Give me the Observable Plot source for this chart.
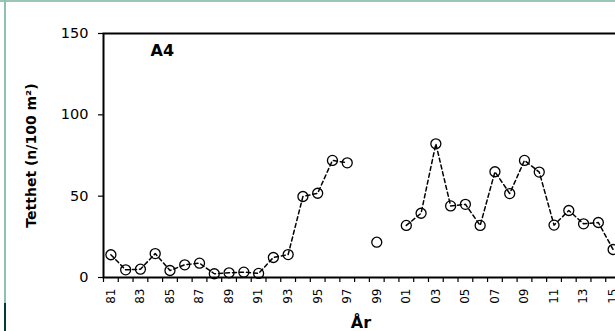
<!DOCTYPE html>
<html>
<head>
<meta charset="utf-8">
<script src="https://cdn.jsdelivr.net/npm/d3@7"></script>
<script src="https://cdn.jsdelivr.net/npm/@observablehq/plot@0.6"></script>
<style>
  html, body { margin: 0; padding: 0; background: #fff; }
  #wrap { position: relative; width: 615px; height: 331px; overflow: hidden; background: #fff; }
  #wrap svg { position: absolute; left: 0; top: 0; max-width: none !important; }
  .deco { position: absolute; }
</style>
</head>
<body>
<div id="wrap">
  <div class="deco" style="left:0;top:0;width:615px;height:2px;background:#99c6b6;"></div>
  <div class="deco" style="left:4px;top:0;width:2px;height:303px;background:#8fc1b0;"></div>
  <div class="deco" style="left:4px;top:303px;width:2px;height:28px;background:#003a3a;"></div>
</div>
<script>
// Year labels (1981–2015)
const years = ["81","82","83","84","85","86","87","88","89","90",
               "91","92","93","94","95","96","97","98","99","00",
               "01","02","03","04","05","06","07","08","09","10",
               "11","12","13","14","15"];
// Tetthet (n/100 m²), null = no sampling
const density = [14, 4.7, 5.1, 14.7, 4.3, 7.8, 8.8, 2.3, 2.9, 3.3,
                 2.5, 12.3, 14.1, 49.8, 51.8, 72, 70.5, null, 21.7, null,
                 32, 39.5, 82.2, 44, 45, 32, 65, 51.6, 72, 64.8,
                 32.2, 41.2, 33, 33.8, 17.2];
const yTicks = [0, 50, 100, 150];
const labelTicks = ["81","83","85","87","89","91","93","95","97","99","01","03","05","07","09","11","13","15"];
const panelLabel = "A4";
const xTitle = "År";
const yTitle = "Tetthet (n/100 m²)";

const data = years.map((y, i) => ({i, year: y, v: density[i]}));
const present = data.filter(d => d.v != null);
const boundaries = d3.range(-0.5, years.length, 1);

const chart = Plot.plot({
  width: 620,
  height: 331,
  marginLeft: 103,
  marginRight: 0,
  marginTop: 33,
  marginBottom: 54,
  style: {fontFamily: "DejaVu Sans, sans-serif", background: "transparent", color: "#000", maxWidth: "none"},
  x: {type: "linear", domain: [-0.5, years.length - 0.5], axis: null},
  y: {domain: [0, 150], axis: null},
  marks: [
    Plot.axisX({ticks: boundaries, tickFormat: () => "", tickSize: 5, strokeWidth: 1.2, label: null}),
    Plot.axisX({ticks: labelTicks.map(l => years.indexOf(l)), tickFormat: i => years[i], tickSize: 0, tickPadding: 11, tickRotate: -90, fontSize: 12, label: null}),
    Plot.axisY({ticks: yTicks, tickSize: 5, tickPadding: 10, strokeWidth: 1.2, fontSize: 14.5, label: null}),
    Plot.frame({stroke: "#000", strokeWidth: 2}),
    Plot.line(data, {x: "i", y: "v", stroke: "#000", strokeWidth: 1.5, strokeDasharray: "4,3"}),
    Plot.dot(present, {x: "i", y: "v", r: 5, stroke: "#000", strokeWidth: 1.3, fill: "none"}),
    Plot.text([panelLabel], {frameAnchor: "top-left", dx: 47, dy: 17, textAnchor: "start", lineAnchor: "middle", fontWeight: "bold", fontSize: 16}),
    Plot.text([xTitle], {frameAnchor: "bottom", dx: -1, dy: 45, textAnchor: "middle", lineAnchor: "middle", fontWeight: "bold", fontSize: 16}),
    Plot.text([yTitle], {frameAnchor: "left", dx: -72, dy: 0, rotate: -90, textAnchor: "middle", lineAnchor: "middle", fontWeight: "bold", fontSize: 14})
  ]
});
document.getElementById("wrap").appendChild(chart);
</script>
</body>
</html>
